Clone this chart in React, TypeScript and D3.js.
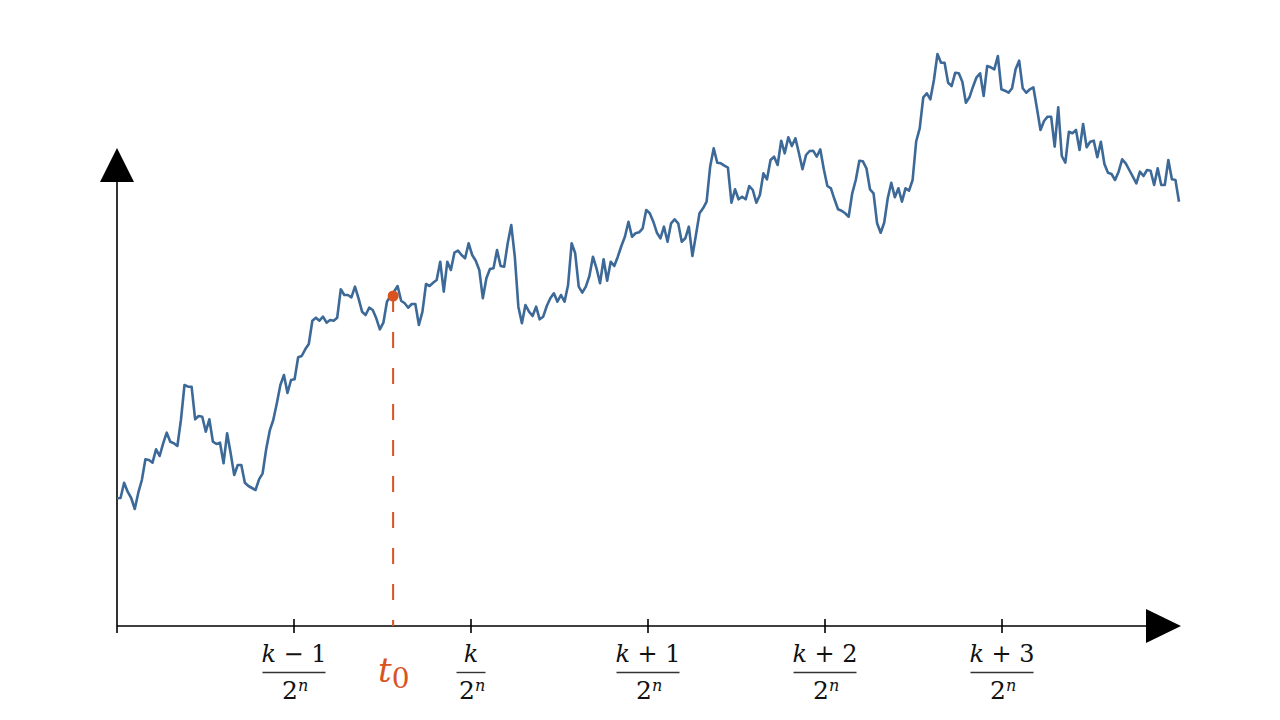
import React from "react";
import * as d3 from "d3";

// sampled path W(t), one value every 6/299 of an interval unit
const pathValues = [
  1.277, 1.28, 1.433, 1.343, 1.28, 1.17, 1.333, 1.46, 1.667, 1.66,
  1.633, 1.767, 1.7, 1.827, 1.933, 1.843, 1.827, 1.8, 2.06, 2.41,
  2.393, 2.393, 2.067, 2.1, 2.093, 1.943, 2.067, 1.843, 1.82, 1.833,
  1.627, 1.927, 1.727, 1.51, 1.61, 1.61, 1.433, 1.4, 1.38, 1.36,
  1.467, 1.527, 1.767, 1.953, 2.06, 2.227, 2.41, 2.51, 2.33,
  2.46, 2.467, 2.687, 2.7, 2.767, 2.82, 3.053, 3.083, 3.053, 3.093,
  3.033, 3.06, 3.053, 3.083, 3.367, 3.31, 3.31, 3.287, 3.393, 3.277,
  3.143, 3.11, 3.183, 3.16, 3.077, 2.967, 3.033, 3.243, 3.3, 3.343,
  3.4, 3.253, 3.227, 3.183, 3.22, 3.22, 3.01, 3.143, 3.42, 3.4,
  3.433, 3.46,
  3.643, 3.343, 3.643, 3.56, 3.733, 3.753, 3.71, 3.677, 3.827, 3.71,
  3.653, 3.56, 3.277, 3.477, 3.57, 3.577, 3.76, 3.6, 3.593, 3.827,
  4.01, 3.693, 3.193, 3.027, 3.21, 3.143, 3.1, 3.193, 3.067, 3.093,
  3.2, 3.277, 3.327, 3.243, 3.31, 3.243, 3.41, 3.827, 3.727, 3.393,
  3.333, 3.393, 3.5, 3.693, 3.577, 3.427, 3.667, 3.453, 3.643, 3.6,
  3.693,
  3.8, 3.893, 4.043, 3.893, 3.927, 3.937, 3.977, 4.16, 4.127, 4.043,
  3.933, 3.877, 3.993, 3.843, 4.027, 4.067, 4.027, 3.843, 3.877, 3.993,
  3.7, 3.91, 4.127, 4.177, 4.243, 4.593, 4.777, 4.633, 4.627, 4.603,
  4.583, 4.233, 4.367, 4.267, 4.293, 4.267, 4.4, 4.36, 4.233, 4.31,
  4.527, 4.467, 4.66, 4.693,
  4.61, 4.853, 4.727, 4.887, 4.8, 4.877, 4.727, 4.567, 4.71, 4.75,
  4.753, 4.693, 4.767, 4.567, 4.4, 4.377, 4.267, 4.167, 4.153, 4.127,
  4.093, 4.327, 4.46, 4.653, 4.647, 4.577, 4.367, 4.327, 4.027, 3.933,
  4.033, 4.277, 4.433, 4.287, 4.377, 4.243, 4.377, 4.353, 4.46, 4.845,
  4.977,
  5.287, 5.327, 5.267, 5.46, 5.72, 5.633, 5.633, 5.433, 5.4, 5.533,
  5.527, 5.443, 5.233, 5.287, 5.393, 5.487, 5.527, 5.3, 5.6, 5.587,
  5.567, 5.7, 5.367, 5.353, 5.333, 5.377, 5.567, 5.653, 5.377, 5.333,
  5.367, 5.387,
  5.177, 4.96, 5.05, 5.093, 5.093, 4.793, 5.187, 4.7, 4.633, 4.943,
  4.927, 4.96, 4.76, 5.02, 4.787, 4.843, 4.853, 4.687, 4.843, 4.62,
  4.533, 4.52, 4.46, 4.543, 4.667, 4.627, 4.56, 4.493, 4.427, 4.543,
  4.5, 4.56, 4.553, 4.41, 4.577, 4.41, 4.41, 4.66, 4.467, 4.46,
  4.243,
];

const tickTimes = [1, 2, 3, 4, 5];
const tickNumerators = ["k − 1", "k", "k + 1", "k + 2", "k + 3"];
const T_END = 6;
const T0 = 1.56;
const W0 = 3.3;

const BLUE = "#3c6997";
const ORANGE = "#d9531e";
const FONT = '"DejaVu Serif", "Liberation Serif", "Times New Roman", serif';

const Numerator = ({ text }: { text: string }) => {
  const [k, ...rest] = text.split(" ");
  return (
    <>
      <tspan fontStyle="italic">{k}</tspan>
      {rest.length > 0 && <tspan>{" " + rest.join(" ")}</tspan>}
    </>
  );
};

export default function App() {
  const width = 1280;
  const height = 720;
  const x0 = 117;
  const baseY = 626;

  const xScale = d3.scaleLinear().domain([0, T_END]).range([x0, 1179]);
  const yScale = d3.scaleLinear().domain([0, 6]).range([baseY, baseY - 600]);

  const n = pathValues.length;
  const pts: [number, number][] = pathValues.map((v, i) => [(i * T_END) / (n - 1), v]);
  const line = d3
    .line<[number, number]>()
    .x((d) => xScale(d[0]))
    .y((d) => yScale(d[1]));

  const tx0 = xScale(T0);
  const ty0 = yScale(W0);

  return (
    <div style={{ margin: -8 }}>
      <svg width={width} height={height} style={{ display: "block", background: "#fff" }}>
        {/* axes */}
        <line x1={x0} y1={baseY + 7} x2={x0} y2={182} stroke="#000" strokeWidth={1.6} />
        <line x1={x0} y1={baseY} x2={1147} y2={baseY} stroke="#000" strokeWidth={1.6} />
        <path d={`M${x0},148 L${x0 - 17},182 L${x0 + 17},182 Z`} fill="#000" />
        <path d={`M1181,${baseY} L1146,${baseY - 17} L1146,${baseY + 17} Z`} fill="#000" />

        {tickTimes.map((t, i) => {
          const x = xScale(t);
          const half = tickNumerators[i] === "k" ? 14.5 : 31.5;
          return (
            <g key={t} fontFamily={FONT} fill="#111">
              <line x1={x} y1={baseY - 7} x2={x} y2={baseY + 7} stroke="#000" strokeWidth={1.6} />
              <text x={x} y={662} textAnchor="middle" fontSize={24}>
                <Numerator text={tickNumerators[i]} />
              </text>
              <line x1={x - half} y1={672.5} x2={x + half} y2={672.5} stroke="#333" strokeWidth={1.4} />
              <text x={x - 4} y={699} textAnchor="middle" fontSize={25}>
                2
              </text>
              <text x={x + 4} y={691} fontSize={16} fontStyle="italic">
                n
              </text>
            </g>
          );
        })}

        {/* path */}
        <path d={line(pts) ?? ""} fill="none" stroke={BLUE} strokeWidth={2.6} strokeLinejoin="round" />

        {/* t0 marker */}
        <line x1={tx0} y1={ty0} x2={tx0} y2={baseY} stroke={ORANGE} strokeWidth={2} strokeDasharray="16 20" />
        <circle cx={tx0} cy={ty0} r={5.5} fill={ORANGE} />
        <text x={tx0 - 15} y={682} fontFamily={FONT} fill={ORANGE}>
          <tspan fontSize={34} fontStyle="italic">t</tspan>
          <tspan fontSize={28} dy={6}>0</tspan>
        </text>
      </svg>
    </div>
  );
}
